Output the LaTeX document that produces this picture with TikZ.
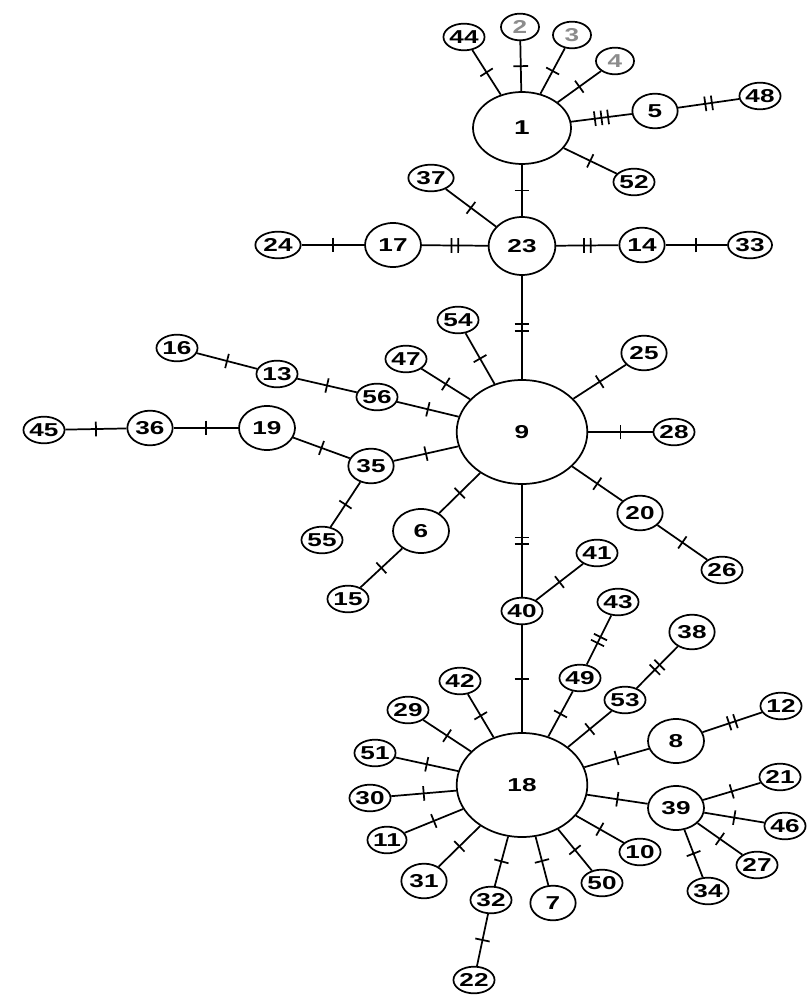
\documentclass[tikz,border=0pt]{standalone}
\usepackage{fontspec}
\setmainfont{Liberation Sans}[FakeStretch=1.4]
\usetikzlibrary{shapes.geometric,decorations.markings}

\begin{document}
\begin{tikzpicture}[x=0.75pt,y=-0.75pt,line width=1.3pt,
  hap/.style={draw,ellipse,fill=white,inner sep=0pt,font=\fontsize{14}{14}\selectfont\bfseries,minimum width=28.5pt,minimum height=20pt},
  md/.style={minimum width=34pt,minimum height=26pt},
  lg/.style={minimum width=42pt,minimum height=33pt},
  hub/.style={minimum width=98pt,minimum height=78pt},
  faint/.style={text=black!45},
  link/.style={draw},
  tick1/.style={postaction={decorate,decoration={markings,mark=at position .5 with {\draw (0,-5.5pt)--(0,5.5pt);}}}},
  tick2/.style={postaction={decorate,decoration={markings,mark=at position .5 with {\draw (-2.5pt,-5.5pt)--(-2.5pt,5.5pt) (2.5pt,-5.5pt)--(2.5pt,5.5pt);}}}},
  tick3/.style={postaction={decorate,decoration={markings,mark=at position .5 with {\draw (-5pt,-5.5pt)--(-5pt,5.5pt) (0,-5.5pt)--(0,5.5pt) (5pt,-5.5pt)--(5pt,5.5pt);}}}}]
\useasboundingbox (0,0) rectangle (807,998);
% top cluster
\node[hap,minimum width=73.5pt,minimum height=54pt,font=\fontsize{15}{15}\selectfont\bfseries] (h1) at (522,128) {1};
\node[hap,faint] (h2) at (520,27) {2};
\node[hap,faint] (h3) at (572,35) {3};
\node[hap,faint] (h4) at (615,61) {4};
\node[hap] (h44) at (464,37) {44};
\node[hap,md] (h5) at (655,111) {5};
\node[hap] (h48) at (760,96) {48};
\node[hap] (h52) at (634,182) {52};
\node[hap,minimum width=34pt] (h37) at (431,178) {37};
\node[hap,minimum width=50pt,minimum height=43.5pt] (h23) at (522,246) {23};
\node[hap,lg] (h17) at (393,245) {17};
\node[hap,minimum width=34pt] (h24) at (278,245) {24};
\node[hap,md] (h14) at (642,245) {14};
\node[hap,minimum width=33pt] (h33) at (750,245) {33};
% middle cluster
\node[hap,hub] (h9) at (522,432) {9};
\node[hap] (h54) at (458,320) {54};
\node[hap] (h47) at (406,359) {47};
\node[hap] (h56) at (377,397) {56};
\node[hap] (h13) at (277,374) {13};
\node[hap] (h16) at (177,348) {16};
\node[hap] (h45) at (44,430) {45};
\node[hap,md] (h36) at (150,428) {36};
\node[hap,lg] (h19) at (267,428) {19};
\node[hap,md] (h35) at (371,466) {35};
\node[hap] (h55) at (322,540) {55};
\node[hap,lg] (h6) at (421,531) {6};
\node[hap] (h15) at (348,599) {15};
\node[hap,md] (h25) at (644,353) {25};
\node[hap] (h28) at (674,432) {28};
\node[hap,md] (h20) at (640,513) {20};
\node[hap] (h26) at (722,570) {26};
\node[hap] (h40) at (522,611) {40};
\node[hap] (h41) at (597,553) {41};
% bottom cluster
\node[hap,hub] (h18) at (522,785) {18};
\node[hap] (h43) at (618,602) {43};
\node[hap] (h49) at (580,678) {49};
\node[hap,md] (h38) at (692,632) {38};
\node[hap] (h53) at (625,700) {53};
\node[hap] (h12) at (781,706) {12};
\node[hap,lg] (h8) at (676,741) {8};
\node[hap] (h42) at (460,681) {42};
\node[hap] (h29) at (408,710) {29};
\node[hap] (h51) at (375,753) {51};
\node[hap] (h30) at (370,798) {30};
\node[hap] (h11) at (387,840) {11};
\node[hap,md] (h31) at (424,881) {31};
\node[hap] (h32) at (491,900) {32};
\node[hap] (h22) at (474,980) {22};
\node[hap,md] (h7) at (553,903) {7};
\node[hap] (h50) at (602,883) {50};
\node[hap] (h10) at (640,852) {10};
\node[hap,lg] (h39) at (676,808) {39};
\node[hap] (h21) at (780,777) {21};
\node[hap] (h46) at (785,826) {46};
\node[hap] (h27) at (757,865) {27};
\node[hap] (h34) at (708,891) {34};
% links
\draw[link,tick1] (h1)--(h44); \draw[link,tick1] (h1)--(h2); \draw[link,tick1] (h1)--(h3); \draw[link,tick1] (h1)--(h4);
\draw[link,tick3] (h1)--(h5); \draw[link,tick2] (h5)--(h48); \draw[link,tick1] (h1)--(h52); \draw[link,tick1] (h1)--(h23);
\draw[link,tick1] (h23)--(h37); \draw[link,tick2] (h23)--(h17); \draw[link,tick1] (h17)--(h24);
\draw[link,tick2] (h23)--(h14); \draw[link,tick1] (h14)--(h33); \draw[link,tick2] (h23)--(h9);
\draw[link,tick1] (h9)--(h54); \draw[link,tick1] (h9)--(h47); \draw[link,tick1] (h9)--(h56); \draw[link,tick1] (h56)--(h13); \draw[link,tick1] (h13)--(h16);
\draw[link,tick1] (h9)--(h35); \draw[link,tick1] (h35)--(h19); \draw[link,tick1] (h19)--(h36); \draw[link,tick1] (h36)--(h45); \draw[link,tick1] (h35)--(h55);
\draw[link,tick1] (h9)--(h6); \draw[link,tick1] (h6)--(h15);
\draw[link,tick1] (h9)--(h25); \draw[link,tick1] (h9)--(h28); \draw[link,tick1] (h9)--(h20); \draw[link,tick1] (h20)--(h26);
\draw[link,tick2] (h9)--(h40); \draw[link,tick1] (h40)--(h41); \draw[link,tick1] (h40)--(h18);
\draw[link,tick1] (h18)--(h49); \draw[link,tick2] (h49)--(h43); \draw[link,tick1] (h18)--(h53); \draw[link,tick2] (h53)--(h38);
\draw[link,tick1] (h18)--(h8); \draw[link,tick2] (h8)--(h12);
\draw[link,tick1] (h18)--(h42); \draw[link,tick1] (h18)--(h29); \draw[link,tick1] (h18)--(h51); \draw[link,tick1] (h18)--(h30);
\draw[link,tick1] (h18)--(h11); \draw[link,tick1] (h18)--(h31); \draw[link,tick1] (h18)--(h32); \draw[link,tick1] (h32)--(h22);
\draw[link,tick1] (h18)--(h7); \draw[link,tick1] (h18)--(h50); \draw[link,tick1] (h18)--(h10);
\draw[link,tick1] (h18)--(h39); \draw[link,tick1] (h39)--(h21); \draw[link,tick1] (h39)--(h46); \draw[link,tick1] (h39)--(h27); \draw[link,tick1] (h39)--(h34);
\end{tikzpicture}
\end{document}
